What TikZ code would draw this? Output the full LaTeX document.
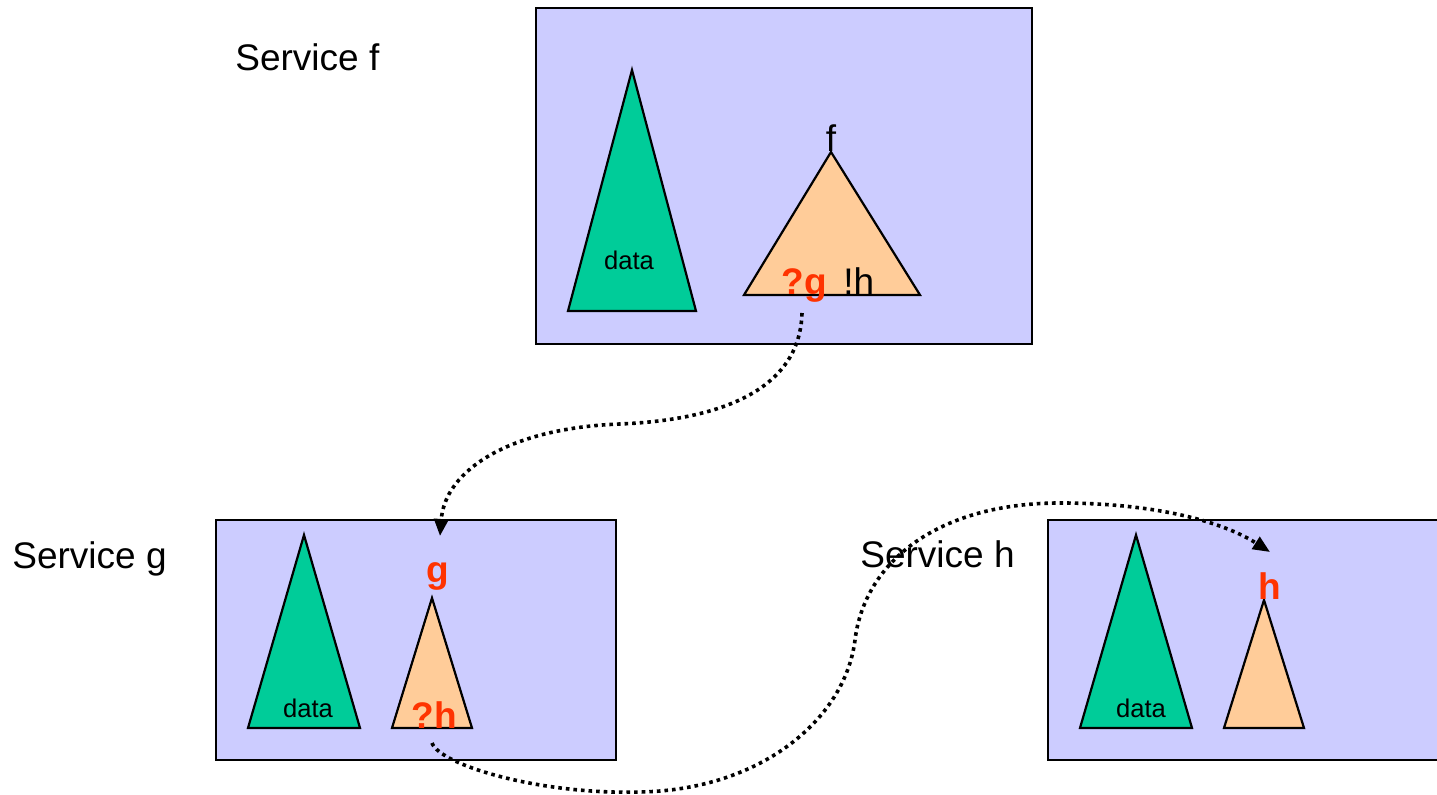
\documentclass[tikz,border=0pt]{standalone}
\usepackage{fontspec}
\setmainfont{Liberation Sans}
\usetikzlibrary{arrows.meta}
\definecolor{svcfill}{HTML}{CCCCFF}
\definecolor{datafill}{HTML}{00CC99}
\definecolor{funcfill}{HTML}{FFCC99}
\definecolor{callred}{HTML}{FF3300}
\tikzset{
  svcbox/.style={draw=black, line width=1.2pt, fill=svcfill},
  datatree/.style={draw=black, line width=1.1pt, fill=datafill, line join=miter},
  functree/.style={draw=black, line width=1.1pt, fill=funcfill, line join=miter},
  biglabel/.style={inner sep=0pt, font=\fontsize{18.5}{20}\selectfont},
  smalllabel/.style={inner sep=0pt, font=\fontsize{12.8}{14}\selectfont},
  calllabel/.style={biglabel, text=callred, font=\fontsize{18.5}{20}\selectfont\bfseries},
  callflow/.style={line width=1.8pt, dash pattern=on 1.8pt off 2.0pt,
    -{Triangle[length=8.5pt,width=7pt]}},
}
\begin{document}
\begin{tikzpicture}[x=0.5pt, y=-0.5pt]
\useasboundingbox (0,0) rectangle (1437,795);

% service boxes
\path[svcbox] (536,8) rectangle (1032,344);
\path[svcbox] (216,520) rectangle (616,760);
\path[svcbox] (1048,520) rectangle (1460,760);

% service f: data tree and function f
\path[datatree] (632,70) -- (696,311) -- (568,311) -- cycle;
\path[functree] (831,152) -- (920,295) -- (744,295) -- cycle;

% service g
\path[datatree] (304,535) -- (360,728) -- (248,728) -- cycle;
\path[functree] (432,598) -- (472,728) -- (392,728) -- cycle;

% service h
\path[datatree] (1136,535) -- (1192,728) -- (1080,728) -- cycle;
\path[functree] (1264,600) -- (1304,728) -- (1224,728) -- cycle;

% titles
\node[biglabel, anchor=base west] (titlef) at (235,71) {Service f};
\node[biglabel, anchor=base west] (titleg) at (12,569) {Service g};
\node[biglabel, anchor=base west] (titleh) at (860,568) {Service h};

% labels inside the boxes
\node[smalllabel, anchor=base] (dataf) at (629,270) {data};
\node[smalllabel, anchor=base] (datag) at (308,718) {data};
\node[smalllabel, anchor=base] (datah) at (1141,718) {data};

\node[biglabel, anchor=base] (namef) at (831,152) {f};
\node[calllabel, anchor=base west] (askg) at (781,295) {?g};
\node[biglabel, anchor=base west] (sendh) at (843,295) {!h};

\node[calllabel, anchor=base] (nameg) at (438,583) {g};
\node[calllabel, anchor=base] (askh) at (434,729) {?h};
\node[calllabel, anchor=base] (nameh) at (1270,600) {h};

% call flow end points
\coordinate (fromg) at (802,313);
\coordinate (tog) at (440,536);
\coordinate (fromh) at (432,743);
\coordinate (toh) at (1270,552);

% calls between the services
\draw[callflow] (fromg) .. controls (800,390) and (720,420) .. (620,424)
  .. controls (510,428) and (445,470) .. (tog);
\draw[callflow] (fromh) .. controls (440,765) and (540,795) .. (640,792)
  .. controls (760,790) and (845,720) .. (855,640)
  .. controls (865,560) and (940,503) .. (1060,503)
  .. controls (1150,503) and (1220,520) .. (toh);
\end{tikzpicture}
\end{document}
